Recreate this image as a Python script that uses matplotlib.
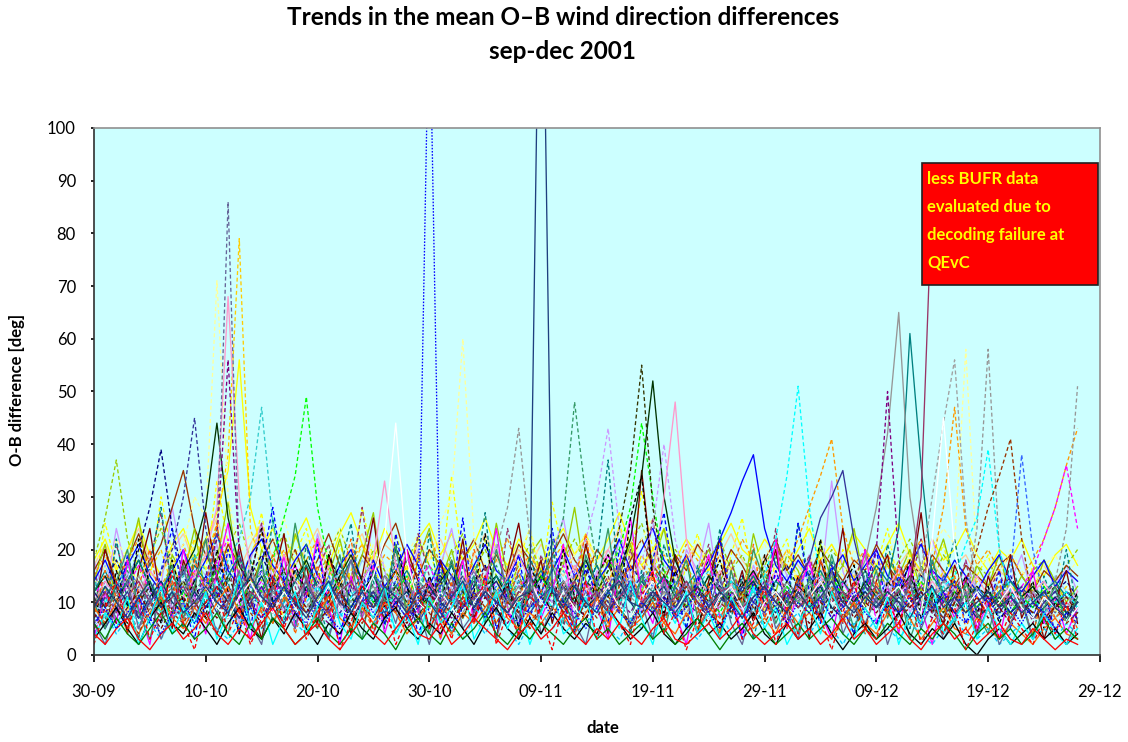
import matplotlib
matplotlib.use("Agg")
import matplotlib.pyplot as plt
from matplotlib.patches import Rectangle

plt.rcParams['font.family'] = ['Lato', 'DejaVu Sans']

# daily mean O-B wind direction differences [deg], day 0 = 30-09-2001
tick_labels = ["30-09", "10-10", "20-10", "30-10", "09-11",
               "19-11", "29-11", "09-12", "19-12", "29-12"]
tick_days = [0, 10, 20, 30, 40, 50, 60, 70, 80, 90]

slate_dash = [8, 11, 7, 10, 13, 9, 6, 10, 12, 9,
              14, 22, 86, 18, 9, 12, 8, 11, 14, 10,
              7, 9, 13, 10, 8, 12, 15, 11, 9, 7,
              10, 13, 9, 12, 16, 11, 8, 10, 13, 9,
              11, 14, 10, 8, 12, 9, 13, 17, 12, 10,
              8, 11, 9, 13, 10, 7, 9, 12, 10, 8,
              11, 9, 13, 10, 8, 12, 14, 11, 9, 12,
              10, 13, 9, 15, 11, 8, 10, 12, 9, 11,
              8, 10, 12, 9, 7, 10, 8, 11, 9]
gold_dash = [15, 12, 18, 14, 10, 16, 20, 13, 17, 22,
             18, 25, 38, 79, 24, 16, 12, 19, 15, 11,
             14, 18, 12, 16, 21, 15, 11, 13, 17, 12,
             9, 14, 18, 13, 10, 15, 12, 16, 11, 14,
             18, 13, 10, 15, 12, 9, 14, 17, 13, 19,
             15, 11, 16, 12, 10, 14, 18, 13, 11, 15,
             12, 16, 20, 14, 11, 13, 17, 12, 15, 10,
             13, 17, 12, 9, 14, 11, 16, 13, 10, 14,
             12, 9, 13, 11, 15, 12, 10, 13, 11]
pale_yellow_dash = [20, 16, 22, 18, 14, 19, 25, 17, 21, 30,
                    26, 71, 30, 19, 23, 17, 21, 26, 18, 22,
                    16, 20, 24, 18, 15, 21, 17, 14, 19, 23,
                    18, 25, 30, 60, 22, 17, 20, 15, 19, 24,
                    17, 21, 16, 19, 23, 18, 14, 20, 17, 22,
                    26, 19, 15, 18, 22, 17, 20, 16, 13, 18,
                    21, 16, 19, 14, 17, 22, 18, 15, 20, 17,
                    14, 19, 23, 18, 15, 20, 24, 21, 58, 17,
                    18, 15, 20, 16, 13, 17, 19, 15, 18]
pink_solid = [10, 14, 11, 8, 12, 16, 13, 9, 11, 15,
              19, 28, 68, 30, 16, 12, 15, 19, 14, 11,
              13, 17, 12, 9, 14, 18, 33, 17, 12, 10,
              14, 11, 9, 13, 16, 12, 10, 15, 19, 14,
              11, 9, 13, 17, 12, 15, 20, 16, 13, 11,
              15, 30, 48, 22, 14, 12, 16, 13, 10, 14,
              12, 16, 11, 9, 13, 15, 12, 10, 14, 11,
              9, 13, 16, 12, 10, 14, 11, 8, 12, 15,
              11, 9, 13, 10, 12, 14, 10, 9, 12]
purple_dash = [6, 9, 12, 8, 5, 10, 13, 9, 7, 11,
               15, 22, 56, 19, 10, 7, 11, 14, 9, 12,
               8, 6, 10, 13, 9, 7, 11, 8, 5, 9,
               12, 9, 7, 10, 14, 11, 8, 6, 10, 13,
               9, 12, 8, 10, 7, 11, 14, 10, 8, 12,
               9, 7, 11, 13, 9, 6, 10, 12, 8, 11,
               14, 10, 8, 12, 9, 11, 7, 10, 13, 9,
               20, 50, 18, 11, 9, 7, 10, 13, 9, 8,
               11, 9, 7, 10, 12, 8, 10, 9, 7]
yellow_solid = [18, 22, 16, 20, 25, 19, 15, 21, 24, 18,
                22, 27, 35, 56, 28, 20, 24, 18, 22, 26,
                20, 17, 23, 27, 21, 18, 24, 20, 16, 22,
                25, 19, 23, 18, 21, 26, 20, 17, 22, 19,
                16, 21, 24, 19, 23, 18, 22, 27, 21, 17,
                20, 24, 18, 22, 19, 16, 21, 25, 20, 18,
                22, 19, 16, 20, 24, 18, 21, 17, 23, 20,
                17, 21, 25, 19, 16, 22, 18, 20, 24, 19,
                16, 20, 18, 22, 17, 15, 19, 21, 17]
dark_green_solid = [12, 15, 10, 14, 18, 13, 9, 12, 16, 20,
                    28, 44, 26, 17, 13, 16, 12, 10, 14, 18,
                    13, 11, 15, 19, 14, 10, 12, 16, 13, 9,
                    11, 14, 17, 12, 10, 13, 15, 11, 9, 12,
                    15, 12, 10, 14, 18, 13, 11, 16, 22, 34,
                    52, 30, 18, 13, 11, 15, 12, 9, 13, 16,
                    12, 10, 14, 11, 9, 13, 16, 12, 10, 14,
                    11, 9, 12, 15, 10, 8, 12, 14, 11, 9,
                    12, 10, 8, 11, 13, 10, 9, 12, 10]
green_dash = [9, 13, 10, 7, 11, 14, 10, 8, 12, 9,
              13, 16, 11, 9, 14, 12, 18, 26, 34, 49,
              28, 17, 12, 9, 13, 10, 8, 12, 15, 11,
              9, 12, 10, 7, 11, 14, 10, 13, 9, 12,
              15, 11, 9, 13, 10, 12, 16, 20, 28, 44,
              30, 16, 12, 9, 13, 11, 8, 12, 10, 14,
              11, 9, 13, 10, 8, 12, 15, 11, 9, 13,
              10, 12, 9, 11, 14, 10, 8, 12, 11, 9,
              12, 10, 8, 11, 9, 13, 10, 8, 10]
teal_dash = [14, 10, 13, 17, 12, 9, 14, 11, 15, 19,
             16, 12, 18, 22, 30, 47, 25, 15, 11, 14,
             10, 13, 16, 12, 9, 11, 15, 12, 10, 13,
             17, 12, 9, 13, 11, 15, 12, 10, 14, 11,
             9, 13, 16, 11, 14, 10, 12, 15, 11, 13,
             10, 14, 12, 9, 13, 16, 12, 10, 13, 11,
             15, 12, 10, 14, 11, 9, 13, 12, 10, 14,
             11, 13, 9, 12, 15, 11, 10, 13, 9, 12,
             10, 12, 14, 11, 9, 12, 10, 11, 9]
navy_dash = [10, 14, 18, 13, 20, 28, 39, 24, 15, 11,
             14, 18, 13, 10, 15, 19, 14, 11, 16, 12,
             9, 13, 17, 12, 15, 11, 9, 14, 18, 13,
             10, 15, 12, 9, 13, 17, 12, 10, 14, 11,
             15, 12, 10, 13, 16, 12, 9, 13, 17, 14,
             11, 15, 12, 10, 14, 18, 13, 11, 15, 12,
             10, 14, 17, 13, 11, 15, 12, 9, 13, 16,
             12, 10, 14, 11, 15, 13, 10, 12, 14, 11,
             9, 12, 15, 11, 13, 10, 12, 14, 11]
violet_dash = [7, 11, 14, 10, 8, 12, 16, 20, 30, 45,
               24, 14, 10, 13, 9, 12, 15, 11, 8, 12,
               14, 10, 8, 11, 13, 9, 12, 10, 7, 11,
               13, 9, 12, 15, 10, 8, 11, 14, 10, 9,
               12, 10, 13, 9, 11, 14, 10, 8, 12, 15,
               11, 9, 13, 10, 8, 12, 14, 10, 9, 11,
               13, 10, 8, 11, 14, 10, 12, 9, 11, 13,
               10, 8, 12, 14, 10, 9, 11, 13, 9, 10,
               12, 9, 11, 13, 10, 8, 11, 9, 10]
yellowgreen_dash = [18, 26, 37, 22, 15, 19, 24, 17, 13, 18,
                    22, 16, 20, 25, 18, 14, 19, 23, 17, 21,
                    15, 19, 24, 18, 14, 20, 16, 13, 18, 22,
                    17, 14, 19, 23, 16, 20, 15, 12, 17, 21,
                    16, 13, 18, 22, 17, 14, 19, 16, 21, 25,
                    18, 15, 20, 17, 13, 18, 22, 16, 19, 14,
                    17, 21, 16, 13, 18, 15, 20, 17, 14, 19,
                    16, 13, 18, 22, 17, 14, 19, 16, 13, 17,
                    15, 19, 14, 12, 16, 18, 14, 17, 20]
white_solid = [5, 8, 11, 7, 4, 9, 12, 8, 6, 10,
               13, 9, 7, 11, 14, 10, 8, 12, 9, 6,
               10, 13, 9, 7, 11, 15, 22, 44, 18, 10,
               8, 12, 9, 6, 10, 13, 9, 7, 11, 14,
               10, 8, 12, 9, 6, 10, 13, 9, 7, 11,
               14, 10, 8, 12, 9, 7, 11, 13, 9, 6,
               10, 12, 9, 7, 11, 14, 10, 8, 12, 9,
               7, 11, 13, 10, 8, 22, 45, 20, 9, 12,
               8, 10, 13, 9, 7, 11, 9, 6, 9]
brown_solid = [16, 20, 14, 18, 23, 17, 21, 28, 35, 24,
               19, 15, 21, 17, 13, 18, 22, 16, 20, 14,
               18, 23, 17, 14, 19, 16, 21, 25, 18, 15,
               20, 17, 13, 18, 22, 16, 19, 15, 21, 18,
               14, 19, 23, 18, 15, 20, 17, 13, 18, 22,
               17, 14, 19, 16, 21, 18, 15, 20, 17, 13,
               18, 22, 16, 19, 15, 20, 17, 14, 18, 16,
               21, 17, 14, 18, 15, 19, 16, 13, 17, 15,
               13, 17, 19, 15, 12, 16, 14, 17, 15]
gray_dash = [11, 8, 12, 15, 10, 7, 11, 14, 9, 12,
             10, 13, 9, 12, 16, 11, 8, 12, 10, 14,
             11, 9, 13, 10, 7, 12, 15, 11, 9, 13,
             10, 14, 11, 8, 12, 15, 20, 28, 43, 22,
             12, 9, 13, 11, 8, 12, 10, 14, 11, 9,
             13, 10, 8, 12, 14, 10, 9, 13, 11, 8,
             12, 10, 14, 11, 9, 13, 10, 8, 12, 11,
             9, 13, 10, 12, 8, 11, 14, 12, 10, 24,
             58, 20, 12, 9, 11, 8, 14, 24, 51]
dkgreen_dash = [8, 12, 9, 6, 10, 13, 9, 11, 14, 10,
                7, 11, 15, 10, 12, 9, 13, 16, 11, 8,
                12, 10, 14, 11, 8, 12, 9, 13, 10, 7,
                11, 14, 10, 12, 9, 13, 11, 8, 12, 15,
                11, 9, 13, 10, 14, 12, 16, 24, 35, 55,
                28, 15, 11, 9, 13, 10, 12, 8, 11, 14,
                10, 12, 9, 13, 11, 8, 12, 10, 14, 11,
                9, 12, 10, 13, 9, 11, 8, 12, 10, 13,
                11, 9, 12, 10, 8, 11, 13, 9, 10]
seagreen_dash = [13, 9, 12, 16, 11, 14, 10, 13, 17, 12,
                 15, 11, 14, 18, 13, 10, 14, 12, 16, 11,
                 13, 17, 12, 10, 14, 11, 15, 13, 10, 14,
                 12, 16, 11, 14, 10, 13, 17, 12, 15, 11,
                 14, 18, 26, 48, 30, 17, 12, 15, 11, 14,
                 17, 12, 10, 14, 11, 15, 13, 10, 14, 12,
                 16, 11, 13, 10, 14, 12, 15, 11, 13, 16,
                 12, 10, 14, 11, 13, 15, 11, 9, 13, 12,
                 10, 14, 12, 9, 13, 11, 10, 12, 11]
lavender_dash = [9, 12, 8, 11, 14, 10, 13, 9, 7, 11,
                 14, 10, 12, 9, 13, 16, 11, 8, 12, 10,
                 13, 9, 11, 14, 10, 8, 12, 15, 11, 9,
                 12, 10, 13, 9, 11, 14, 10, 12, 8, 11,
                 14, 10, 12, 16, 22, 30, 43, 24, 14, 18,
                 24, 40, 22, 13, 10, 12, 9, 11, 14, 10,
                 8, 12, 10, 13, 9, 11, 14, 10, 12, 9,
                 11, 13, 9, 12, 10, 8, 11, 13, 10, 12,
                 9, 11, 13, 10, 12, 9, 11, 10, 8]
blue_solid = [14, 18, 13, 17, 21, 15, 12, 16, 20, 14,
              18, 23, 16, 13, 19, 22, 17, 14, 18, 21,
              15, 12, 17, 20, 14, 18, 13, 16, 21, 17,
              13, 18, 15, 12, 17, 21, 16, 14, 19, 15,
              12, 16, 20, 15, 18, 14, 17, 22, 16, 20,
              24, 18, 15, 19, 14, 17, 22, 27, 33, 38,
              24, 17, 14, 18, 15, 12, 16, 19, 14, 17,
              20, 15, 13, 17, 21, 16, 14, 18, 15, 12,
              16, 19, 14, 12, 15, 18, 13, 16, 14]
cyan_dash = [7, 10, 13, 9, 6, 11, 8, 12, 10, 7,
             11, 14, 10, 8, 12, 9, 13, 11, 8, 10,
             13, 9, 7, 11, 14, 10, 8, 12, 9, 11,
             8, 12, 10, 13, 9, 7, 11, 14, 10, 8,
             12, 9, 11, 14, 10, 8, 12, 10, 13, 9,
             11, 13, 9, 12, 10, 8, 11, 14, 10, 12,
             15, 22, 34, 51, 28, 14, 10, 12, 9, 11,
             13, 10, 8, 12, 11, 9, 13, 15, 21, 26,
             39, 20, 12, 9, 11, 8, 10, 12, 9]
gray_solid = [10, 13, 9, 12, 15, 11, 8, 12, 14, 10,
              13, 11, 9, 12, 16, 12, 10, 13, 11, 9,
              12, 14, 10, 8, 11, 13, 9, 12, 10, 14,
              11, 9, 12, 15, 11, 8, 12, 10, 13, 9,
              12, 10, 14, 11, 9, 13, 10, 12, 15, 11,
              9, 12, 10, 13, 11, 8, 12, 14, 10, 12,
              9, 11, 13, 10, 12, 14, 11, 9, 13, 18,
              28, 42, 65, 30, 16, 11, 13, 10, 12, 9,
              11, 13, 10, 8, 12, 10, 9, 11, 10]
teal_solid = [12, 16, 11, 14, 18, 13, 10, 15, 12, 17,
              14, 11, 15, 19, 13, 16, 12, 10, 14, 17,
              13, 10, 14, 18, 12, 15, 11, 13, 16, 12,
              10, 13, 17, 12, 14, 11, 15, 12, 9, 13,
              16, 12, 14, 10, 13, 17, 12, 15, 11, 14,
              12, 15, 11, 13, 16, 12, 10, 14, 12, 15,
              11, 14, 12, 10, 13, 16, 12, 14, 11, 13,
              17, 14, 24, 61, 36, 15, 12, 14, 11, 13,
              10, 12, 14, 11, 9, 12, 14, 11, 10]
rose_solid = [9, 12, 8, 11, 14, 10, 7, 11, 13, 9,
              12, 15, 11, 8, 12, 10, 13, 9, 11, 14,
              10, 8, 12, 14, 10, 9, 13, 11, 8, 12,
              14, 10, 12, 9, 11, 13, 10, 8, 12, 11,
              9, 13, 11, 14, 10, 12, 9, 11, 13, 10,
              12, 9, 11, 14, 10, 8, 12, 13, 9, 11,
              13, 10, 12, 9, 11, 14, 10, 12, 9, 11,
              13, 10, 12, 14, 30, 88]
silver_dash = [6, 9, 12, 8, 5, 10, 7, 11, 9, 6,
               10, 13, 9, 7, 11, 8, 12, 10, 7, 9,
               12, 8, 10, 13, 9, 6, 10, 12, 8, 11,
               9, 7, 11, 14, 10, 8, 12, 9, 11, 13,
               10, 8, 12, 9, 13, 11, 7, 10, 12, 9,
               11, 14, 10, 8, 12, 9, 11, 13, 10, 7,
               10, 12, 9, 11, 14, 10, 8, 12, 9, 11,
               13, 10, 8, 12, 16, 30, 44, 56, 26, 12,
               9, 11, 8, 10, 12, 9, 7, 10, 8]
orange_dash = [15, 19, 14, 18, 22, 16, 13, 17, 21, 15,
               19, 24, 17, 14, 19, 23, 16, 20, 15, 18,
               22, 16, 13, 18, 21, 15, 19, 17, 14, 19,
               23, 17, 15, 20, 16, 13, 18, 22, 16, 19,
               15, 18, 21, 16, 20, 17, 14, 18, 22, 17,
               14, 19, 16, 21, 18, 15, 19, 16, 22, 18,
               15, 19, 17, 22, 28, 34, 41, 24, 17, 20,
               16, 19, 15, 18, 22, 17, 28, 47, 24, 17,
               20, 16, 19, 15, 18, 22, 28, 36, 43]
brown_dash = [5, 8, 11, 7, 4, 9, 12, 8, 6, 10,
              7, 4, 9, 12, 8, 5, 10, 7, 11, 8,
              5, 9, 12, 8, 6, 10, 7, 4, 8, 11,
              8, 5, 10, 7, 12, 9, 6, 10, 8, 5,
              9, 12, 8, 6, 10, 7, 11, 9, 5, 8,
              11, 7, 10, 13, 9, 6, 10, 8, 12, 9,
              6, 10, 8, 12, 9, 7, 11, 8, 5, 9,
              12, 8, 6, 10, 13, 9, 7, 10, 14, 20,
              28, 34, 41, 22, 10, 7, 9, 6, 8]
magenta_dash = [11, 15, 10, 13, 17, 12, 9, 14, 11, 16,
                13, 18, 22, 15, 11, 14, 10, 13, 17, 12,
                15, 11, 14, 18, 13, 10, 15, 12, 9, 14,
                17, 12, 10, 13, 16, 11, 14, 10, 13, 15,
                11, 14, 17, 12, 10, 15, 19, 14, 11, 13,
                16, 12, 10, 14, 11, 15, 13, 9, 12, 16,
                12, 15, 11, 13, 17, 12, 10, 14, 11, 13,
                15, 11, 14, 10, 13, 16, 12, 10, 14, 11,
                9, 12, 10, 13, 16, 22, 28, 36, 24]
indigo_solid = [8, 5, 9, 12, 7, 10, 13, 8, 6, 10,
                12, 8, 11, 7, 10, 13, 9, 6, 10, 8,
                11, 14, 9, 7, 10, 12, 8, 11, 9, 6,
                10, 8, 12, 9, 11, 7, 10, 13, 9, 8,
                11, 13, 9, 7, 10, 12, 8, 11, 14, 10,
                8, 11, 9, 12, 10, 7, 11, 9, 13, 10,
                8, 12, 10, 14, 18, 26, 30, 35, 22, 13,
                10, 8, 11, 9, 12, 10, 7, 11, 9, 12,
                10, 8, 11, 9, 7, 10, 12, 9, 8]
red_solid = [4, 2, 5, 7, 3, 1, 4, 6, 3, 5,
             8, 4, 2, 5, 3, 6, 9, 5, 2, 4,
             6, 3, 1, 4, 7, 4, 2, 5, 8, 4,
             3, 6, 2, 4, 7, 5, 3, 1, 4, 6,
             3, 5, 8, 4, 2, 5, 3, 6, 4, 2,
             5, 7, 3, 2, 4, 6, 3, 5, 8, 4,
             2, 4, 6, 3, 5, 2, 4, 7, 3, 5,
             2, 4, 6, 3, 1, 4, 6, 3, 5, 2,
             4, 6, 3, 2, 5, 3, 1, 3, 2]
green_solid = [6, 3, 7, 4, 2, 5, 8, 4, 6, 3,
               5, 8, 4, 2, 6, 3, 7, 5, 2, 4,
               7, 4, 2, 5, 3, 6, 4, 1, 5, 7,
               4, 2, 6, 3, 5, 8, 4, 2, 5, 3,
               6, 4, 2, 5, 7, 3, 5, 2, 4, 6,
               3, 5, 2, 4, 7, 4, 1, 4, 6, 3,
               5, 2, 4, 6, 3, 5, 7, 4, 2, 5,
               3, 6, 4, 2, 5, 3, 6, 4, 1, 4,
               6, 3, 5, 2, 4, 7, 3, 5, 3]
black_solid = [3, 6, 9, 5, 2, 7, 10, 6, 4, 8,
               5, 2, 6, 9, 5, 3, 7, 4, 8, 5,
               2, 6, 4, 8, 5, 3, 7, 9, 5, 3,
               6, 4, 8, 5, 2, 6, 9, 5, 3, 7,
               4, 8, 5, 3, 6, 4, 9, 6, 3, 5,
               8, 4, 2, 5, 7, 4, 6, 3, 5, 8,
               4, 2, 6, 3, 5, 8, 4, 1, 4, 6,
               3, 5, 8, 4, 2, 5, 3, 6, 2, 0,
               3, 5, 2, 4, 6, 3, 5, 2, 4]
sky_dash = [5, 8, 4, 7, 10, 6, 3, 7, 9, 5,
            8, 5, 3, 6, 9, 5, 7, 10, 6, 4,
            7, 4, 8, 5, 3, 6, 9, 5, 7, 4,
            6, 9, 5, 3, 7, 4, 8, 5, 2, 6,
            8, 5, 7, 4, 6, 9, 5, 3, 7, 5,
            4, 7, 9, 5, 3, 6, 8, 4, 6, 9,
            5, 3, 6, 8, 4, 7, 5, 2, 6, 4,
            7, 5, 3, 6, 4, 2, 5, 7, 4, 3,
            5, 2, 4, 6, 3, 5, 3, 6, 4]
orange_solid = [9, 6, 10, 7, 4, 8, 11, 7, 5, 9,
                6, 10, 13, 8, 5, 9, 6, 11, 8, 5,
                8, 11, 7, 5, 9, 6, 10, 8, 4, 7,
                10, 7, 4, 8, 6, 9, 12, 7, 5, 8,
                6, 9, 7, 4, 8, 11, 6, 9, 5, 7,
                10, 6, 4, 8, 5, 9, 7, 11, 8, 5,
                7, 4, 9, 6, 8, 5, 3, 7, 10, 6,
                4, 8, 5, 7, 3, 6, 9, 5, 4, 7,
                5, 3, 6, 4, 2, 5, 7, 4, 3]
lightblue_solid = [13, 17, 12, 15, 19, 14, 11, 16, 13, 18,
                   15, 12, 16, 20, 14, 17, 13, 10, 15, 18,
                   14, 11, 16, 13, 18, 15, 12, 16, 19, 14,
                   12, 15, 18, 13, 16, 12, 14, 17, 13, 11,
                   15, 18, 14, 12, 16, 13, 17, 15, 12, 16,
                   13, 17, 14, 11, 15, 18, 13, 16, 12, 14,
                   17, 13, 15, 18, 14, 11, 15, 13, 16, 12,
                   14, 17, 13, 15, 12, 16, 14, 11, 15, 13,
                   11, 14, 12, 10, 13, 11, 15, 12, 10]
blue_dash = [11, 8, 12, 15, 10, 13, 9, 12, 16, 11,
             14, 17, 12, 9, 13, 11, 15, 12, 10, 14,
             12, 15, 11, 9, 13, 16, 12, 14, 10, 13,
             11, 14, 9, 12, 15, 11, 13, 10, 16, 12,
             10, 13, 11, 15, 12, 9, 13, 16, 12, 15,
             13, 11, 14, 12, 9, 13, 11, 15, 12, 10,
             14, 12, 10, 13, 16, 12, 14, 11, 9, 13,
             11, 14, 12, 10, 13, 11, 15, 12, 9, 13,
             10, 12, 15, 38, 20, 11, 9, 12, 10]
maroon_dash = [7, 10, 6, 9, 12, 8, 5, 9, 11, 7,
               10, 7, 11, 14, 9, 6, 10, 8, 12, 9,
               6, 9, 12, 8, 10, 7, 11, 9, 6, 10,
               12, 8, 6, 10, 7, 11, 9, 13, 8, 6,
               9, 12, 8, 11, 7, 10, 13, 9, 6, 10,
               8, 11, 7, 10, 13, 8, 6, 9, 11, 7,
               10, 7, 12, 9, 6, 10, 8, 11, 7, 10,
               8, 11, 7, 9, 12, 8, 6, 10, 8, 11,
               7, 9, 6, 10, 8, 7, 9, 11, 8]
peach_solid = [17, 21, 16, 20, 24, 18, 15, 20, 23, 17,
               21, 26, 19, 16, 21, 25, 18, 22, 17, 20,
               24, 18, 15, 20, 23, 17, 21, 19, 16, 21,
               18, 22, 17, 14, 19, 23, 18, 16, 20, 17,
               21, 17, 15, 19, 22, 18, 20, 24, 19, 16,
               20, 17, 14, 18, 21, 16, 19, 23, 18, 15,
               19, 16, 20, 17, 14, 18, 21, 17, 15, 19,
               16, 13, 17, 20, 15, 18, 14, 17, 19, 15,
               13, 16, 14, 11, 15, 17, 13, 16, 14]
darkblue_solid = [12, 9, 13, 10, 7, 11, 14, 10, 8, 12,
                  9, 13, 10, 7, 11, 15, 10, 12, 9, 13,
                  10, 8, 12, 9, 13, 11, 7, 10, 12, 9,
                  13, 10, 8, 11, 9, 12, 14, 10, 8, 11,
                  9, 12, 10, 13, 9, 11, 8, 12, 10, 7,
                  11, 13, 9, 12, 10, 8, 11, 9, 12, 14,
                  10, 8, 12, 9, 11, 13, 9, 7, 10, 12,
                  9, 11, 8, 10, 12, 9, 11, 8, 10, 7,
                  9, 11, 8, 10, 7, 9, 11, 8, 10]
magenta_solid = [3, 12, 6, 18, 9, 2, 14, 7, 20, 11,
                 4, 16, 25, 10, 3, 13, 8, 19, 5, 12,
                 22, 9, 2, 15, 7, 17, 4, 11, 20, 8,
                 14, 3, 10, 18, 6, 13, 24, 9, 4, 16,
                 7, 12, 21, 5, 14, 9, 3, 17, 26, 11,
                 6, 15, 8, 2, 13, 19, 7, 11, 4, 16,
                 9, 22, 5, 12, 18, 8, 3, 14, 10, 20,
                 6, 13, 4, 17, 9, 2, 12, 7, 15, 5,
                 10, 3, 13, 8, 16, 6, 11, 4, 9]
teal_dash2 = [15, 6, 22, 10, 3, 17, 28, 12, 5, 19,
              9, 24, 14, 4, 18, 8, 26, 13, 6, 21,
              11, 3, 16, 25, 9, 14, 5, 20, 12, 7,
              23, 10, 4, 17, 13, 27, 8, 15, 5, 19,
              11, 22, 6, 14, 9, 18, 37, 12, 4, 16,
              8, 21, 13, 5, 17, 10, 24, 7, 15, 3,
              12, 19, 8, 25, 14, 6, 18, 11, 4, 16,
              9, 21, 13, 5, 17, 8, 14, 22, 10, 4,
              13, 7, 18, 11, 3, 15, 9, 20, 8]
maroon_solid = [8, 20, 13, 4, 16, 24, 10, 5, 18, 12,
                27, 15, 7, 21, 11, 3, 14, 23, 9, 17,
                6, 19, 12, 4, 15, 26, 11, 8, 20, 14,
                5, 18, 10, 22, 7, 13, 3, 16, 25, 11,
                18, 6, 14, 9, 21, 12, 4, 17, 10, 35,
                15, 7, 19, 11, 4, 14, 22, 9, 16, 6,
                13, 20, 8, 15, 3, 18, 11, 24, 9, 5,
                14, 19, 8, 13, 27, 10, 6, 17, 12, 4,
                15, 9, 19, 7, 12, 3, 10, 16, 6]
red_dash = [2, 9, 14, 5, 11, 3, 8, 16, 6, 1,
            10, 13, 4, 9, 2, 7, 15, 5, 11, 3,
            8, 12, 1, 6, 14, 4, 10, 2, 7, 13,
            5, 9, 3, 11, 6, 15, 2, 8, 4, 12,
            7, 1, 10, 5, 14, 3, 9, 6, 2, 11,
            16, 4, 8, 1, 7, 12, 5, 10, 3, 6,
            13, 2, 9, 4, 11, 7, 1, 8, 14, 5,
            3, 10, 6, 12, 2, 7, 4, 9, 1, 6,
            11, 3, 8, 5, 2, 7, 4, 10, 3]
yellow_dash = [12, 25, 17, 8, 20, 14, 30, 19, 9, 22,
               16, 33, 21, 11, 18, 27, 13, 7, 19, 24,
               15, 9, 21, 14, 28, 18, 10, 23, 16, 8,
               20, 13, 34, 17, 11, 22, 15, 9, 18, 24,
               14, 29, 19, 12, 21, 16, 8, 25, 18, 31,
               20, 13, 9, 17, 23, 15, 10, 19, 26, 14,
               8, 18, 22, 12, 27, 16, 11, 20, 14, 9,
               17, 24, 13, 19, 10, 16, 21, 12, 8, 15,
               19, 11, 14, 9, 17, 13, 8, 12, 10]
blue_dash2 = [4, 13, 8, 19, 11, 6, 16, 24, 10, 3,
              15, 9, 20, 12, 5, 17, 28, 14, 7, 11,
              21, 8, 3, 14, 10, 18, 6, 23, 13, 4,
              9, 17, 11, 26, 8, 15, 5, 12, 19, 7,
              14, 24, 10, 4, 17, 11, 6, 20, 13, 8,
              18, 27, 12, 5, 15, 9, 22, 11, 3, 14,
              7, 16, 10, 25, 12, 6, 17, 9, 4, 13,
              20, 8, 15, 11, 5, 18, 10, 14, 6, 12,
              9, 16, 5, 11, 7, 13, 4, 8, 6]
seagreen_solid = [10, 5, 14, 20, 8, 3, 12, 17, 7, 13,
                  22, 9, 4, 15, 11, 18, 6, 10, 25, 14,
                  5, 12, 19, 8, 3, 16, 10, 21, 7, 13,
                  4, 11, 18, 9, 15, 6, 20, 12, 3, 14,
                  8, 17, 11, 5, 19, 13, 24, 9, 6, 15,
                  10, 4, 13, 18, 7, 12, 3, 16, 9, 20,
                  14, 6, 11, 4, 15, 8, 19, 12, 5, 10,
                  16, 7, 13, 3, 9, 18, 11, 6, 14, 8,
                  4, 12, 7, 10, 3, 9, 13, 6, 11]
lavender_solid = [18, 11, 24, 15, 7, 20, 13, 28, 17, 9,
                  14, 21, 12, 6, 18, 25, 14, 8, 16, 11,
                  23, 15, 7, 19, 12, 26, 16, 9, 14, 20,
                  11, 17, 24, 13, 8, 15, 21, 12, 6, 17,
                  11, 19, 26, 14, 9, 16, 12, 22, 15, 8,
                  18, 13, 7, 20, 16, 25, 11, 14, 8, 17,
                  12, 21, 15, 10, 19, 13, 33, 16, 9, 14,
                  20, 11, 17, 8, 13, 22, 15, 10, 18, 12,
                  16, 9, 14, 19, 11, 7, 13, 17, 12]
slate_solid = [6, 2, 9, 14, 5, 11, 3, 8, 17, 7,
               12, 4, 10, 16, 6, 2, 13, 9, 5, 15,
               8, 3, 11, 18, 7, 4, 12, 6, 14, 9,
               2, 10, 15, 5, 8, 13, 3, 11, 7, 16,
               4, 9, 13, 6, 2, 12, 8, 17, 5, 10,
               3, 14, 7, 11, 4, 9, 15, 6, 2, 10,
               13, 5, 8, 3, 12, 7, 16, 4, 9, 6,
               11, 2, 8, 14, 5, 10, 3, 7, 12, 4,
               9, 2, 6, 11, 3, 8, 5, 2, 7]
yellowgreen_solid = [14, 21, 10, 17, 26, 13, 8, 19, 15, 24,
                     11, 18, 29, 14, 9, 20, 16, 12, 23, 17,
                     10, 15, 22, 13, 19, 27, 12, 16, 9, 18,
                     24, 14, 20, 11, 17, 13, 25, 15, 10, 19,
                     22, 13, 17, 28, 14, 11, 18, 15, 21, 12,
                     17, 24, 13, 9, 16, 20, 14, 18, 11, 23,
                     15, 12, 19, 16, 10, 21, 14, 17, 24, 13,
                     11, 18, 15, 20, 12, 16, 22, 14, 10, 17,
                     13, 19, 11, 15, 12, 18, 14, 10, 13]
vermilion_dash = [7, 16, 11, 4, 13, 20, 9, 14, 6, 18,
                  12, 25, 10, 5, 15, 8, 19, 13, 4, 11,
                  17, 7, 14, 22, 9, 5, 12, 16, 8, 19,
                  11, 3, 14, 9, 20, 13, 6, 10, 16, 5,
                  12, 18, 8, 14, 23, 10, 5, 13, 17, 9,
                  15, 6, 11, 19, 8, 13, 4, 16, 10, 21,
                  7, 12, 5, 15, 9, 18, 13, 6, 10, 4,
                  14, 8, 17, 11, 6, 13, 9, 15, 5, 11,
                  8, 14, 6, 10, 4, 12, 7, 9, 5]
black_dash = [11, 5, 16, 9, 22, 13, 6, 18, 10, 14,
              7, 20, 12, 4, 15, 24, 10, 6, 17, 12,
              8, 19, 14, 5, 11, 16, 9, 21, 13, 6,
              15, 10, 18, 7, 12, 23, 9, 14, 5, 17,
              12, 8, 20, 11, 6, 15, 19, 10, 26, 34,
              14, 8, 16, 11, 5, 13, 18, 9, 14, 7,
              19, 12, 6, 15, 10, 22, 8, 13, 17, 9,
              5, 14, 11, 18, 7, 12, 4, 10, 15, 8,
              13, 6, 11, 9, 14, 5, 10, 7, 12]
cyan_solid = [3, 8, 5, 11, 2, 7, 13, 4, 9, 6,
              12, 3, 8, 15, 5, 10, 2, 7, 12, 4,
              9, 14, 6, 3, 10, 7, 13, 4, 8, 2,
              11, 6, 9, 14, 3, 7, 12, 5, 10, 2,
              8, 13, 4, 6, 11, 3, 9, 5, 14, 7,
              2, 10, 6, 12, 4, 8, 3, 11, 7, 13,
              5, 9, 2, 6, 10, 4, 12, 7, 3, 9,
              5, 11, 2, 8, 6, 13, 4, 7, 10, 3,
              9, 5, 2, 6, 3, 8, 4, 2, 5]
rose_dash = [16, 9, 21, 13, 7, 18, 27, 12, 6, 15,
             22, 11, 17, 8, 14, 25, 10, 19, 13, 5,
             16, 21, 9, 14, 28, 12, 7, 18, 11, 23,
             15, 6, 13, 20, 10, 17, 8, 24, 14, 9,
             19, 12, 5, 16, 22, 11, 15, 8, 20, 13,
             26, 10, 17, 7, 14, 21, 12, 18, 9, 15,
             11, 24, 8, 13, 19, 10, 16, 6, 14, 20,
             12, 9, 17, 13, 22, 8, 15, 11, 18, 7,
             12, 16, 9, 13, 6, 11, 14, 8, 10]
blue_dotted_spike = [6, 9, 5, 8, 11, 7, 4, 8, 10, 6,
                     9, 12, 8, 5, 9, 7, 10, 13, 8, 6,
                     10, 7, 5, 9, 12, 8, 6, 10, 7, 9,
                     128, 8, 5, 9, 12, 7, 10, 8, 6, 9,
                     11, 7, 10, 8, 5, 9, 12, 8, 6, 10,
                     8, 11, 7, 9, 12, 8, 5, 9, 7, 10,
                     13, 9, 6, 10, 8, 11, 7, 9, 12, 8,
                     6, 10, 8, 11, 7, 9, 12, 8, 6, 9,
                     11, 7, 9, 6, 10, 8, 5, 8, 7]
navy_spike = [9, 13, 10, 7, 11, 14, 9, 12, 8, 10,
              13, 10, 8, 12, 15, 11, 9, 13, 10, 7,
              11, 14, 10, 8, 12, 9, 13, 11, 8, 12,
              10, 7, 11, 14, 9, 12, 10, 8, 11, 12,
              159, 12, 9, 13, 10, 8, 12, 14, 10, 9,
              12, 10, 8, 11, 13, 9, 12, 10, 7, 11,
              13, 10, 8, 12, 9, 11, 14, 10, 8, 11,
              9, 12, 10, 7, 11, 13, 9, 11, 8, 10,
              12, 9, 11, 8, 10, 12, 9, 7, 10]

note_lines = ["less BUFR data", "evaluated due to",
              "decoding failure at", "QEvC"]

DASH = (0, (3, 2))
DOT = (0, (1.2, 1.2))
SOLID = '-'

# (values, colour, linestyle) in Excel series order
series = [
    (peach_solid, '#FFCC99', SOLID),
    (yellow_dash, '#FFFF00', DASH),
    (lightblue_solid, '#99CCFF', SOLID),
    (yellow_solid, '#FFFF00', SOLID),
    (lavender_solid, '#CC99FF', SOLID),
    (yellowgreen_dash, '#99CC00', DASH),
    (brown_solid, '#993300', SOLID),
    (yellowgreen_solid, '#99CC00', SOLID),
    (orange_dash, '#FF9900', DASH),
    (gold_dash, '#FFCC00', DASH),
    (pale_yellow_dash, '#FFFF99', DASH),
    (rose_dash, '#993366', DASH),
    (blue_solid, '#0000FF', SOLID),
    (teal_dash2, '#008080', DASH),
    (navy_dash, '#000080', DASH),
    (maroon_solid, '#800000', SOLID),
    (teal_dash, '#33CCCC', DASH),
    (magenta_dash, '#FF00FF', DASH),
    (magenta_solid, '#FF00FF', SOLID),
    (seagreen_dash, '#339966', DASH),
    (dark_green_solid, '#003300', SOLID),
    (teal_solid, '#008080', SOLID),
    (pink_solid, '#FF99CC', SOLID),
    (slate_dash, '#666699', DASH),
    (blue_dash, '#3366FF', DASH),
    (blue_dash2, '#0000FF', DASH),
    (gray_solid, '#969696', SOLID),
    (gray_dash, '#969696', DASH),
    (green_dash, '#00FF00', DASH),
    (violet_dash, '#333399', DASH),
    (purple_dash, '#800080', DASH),
    (lavender_dash, '#CC99FF', DASH),
    (dkgreen_dash, '#333300', DASH),
    (black_dash, '#000000', DASH),
    (cyan_dash, '#00FFFF', DASH),
    (silver_dash, '#A0A0A0', DASH),
    (darkblue_solid, '#003366', SOLID),
    (indigo_solid, '#333399', SOLID),
    (vermilion_dash, '#FF6600', DASH),
    (seagreen_solid, '#339966', SOLID),
    (maroon_dash, '#800000', DASH),
    (rose_solid, '#993366', SOLID),
    (white_solid, '#FFFFFF', SOLID),
    (orange_solid, '#FF6600', SOLID),
    (sky_dash, '#00CCFF', DASH),
    (slate_solid, '#666699', SOLID),
    (brown_dash, '#993300', DASH),
    (black_solid, '#000000', SOLID),
    (cyan_solid, '#00FFFF', SOLID),
    (green_solid, '#008000', SOLID),
    (red_dash, '#FF0000', DASH),
    (red_solid, '#FF0000', SOLID),
    (blue_dotted_spike, '#0000FF', DOT),
    (navy_spike, '#1F3F7F', SOLID),
]

fig = plt.figure(figsize=(11.28, 7.42), dpi=100)
ax = fig.add_axes([0.0833, 0.1173, 0.8918, 0.7102])
ax.set_facecolor('#CCFFFF')

for values, color, ls in series:
    ax.plot(range(len(values)), values, color=color, linestyle=ls, linewidth=0.95)

ax.set_xlim(0, 90)
ax.set_ylim(0, 100)
ax.set_yticks(range(0, 101, 10))
ax.set_xticks(tick_days)
ax.set_xticklabels(tick_labels)
ax.tick_params(axis='x', direction='out', length=5, width=1.2, pad=16, labelsize=12)
ax.tick_params(axis='y', direction='out', length=2, width=1.2, pad=11, labelsize=12)

for side in ['top', 'right']:
    ax.spines[side].set_color('#909090')
    ax.spines[side].set_linewidth(1.2)
for side in ['left', 'bottom']:
    ax.spines[side].set_color('#303030')
    ax.spines[side].set_linewidth(1.2)

# annotation box
ax.add_patch(Rectangle((0.823, 0.702), 0.175, 0.232, transform=ax.transAxes,
                       facecolor='#FF0000', edgecolor='#202020', linewidth=1.2, zorder=5))
for i, line in enumerate(note_lines):
    ax.text(0.828, 0.903 - i * 0.053, line, transform=ax.transAxes,
            color='#FFFF00', fontsize=12, fontweight='bold', va='center', ha='left', zorder=6)

fig.text(0.499, 0.976, "Trends in the mean O\u2013B wind direction differences",
         ha='center', va='center', fontsize=17.5, fontweight='bold')
fig.text(0.499, 0.931, "sep-dec 2001", ha='center', va='center', fontsize=17.5, fontweight='bold')
fig.text(0.015, 0.474, "O-B difference [deg]", rotation=90, ha='center', va='center',
         fontsize=12, fontweight='bold')
fig.text(0.534, 0.019, "date", ha='center', va='center', fontsize=12, fontweight='bold')

fig.savefig('out.png', dpi=100)
